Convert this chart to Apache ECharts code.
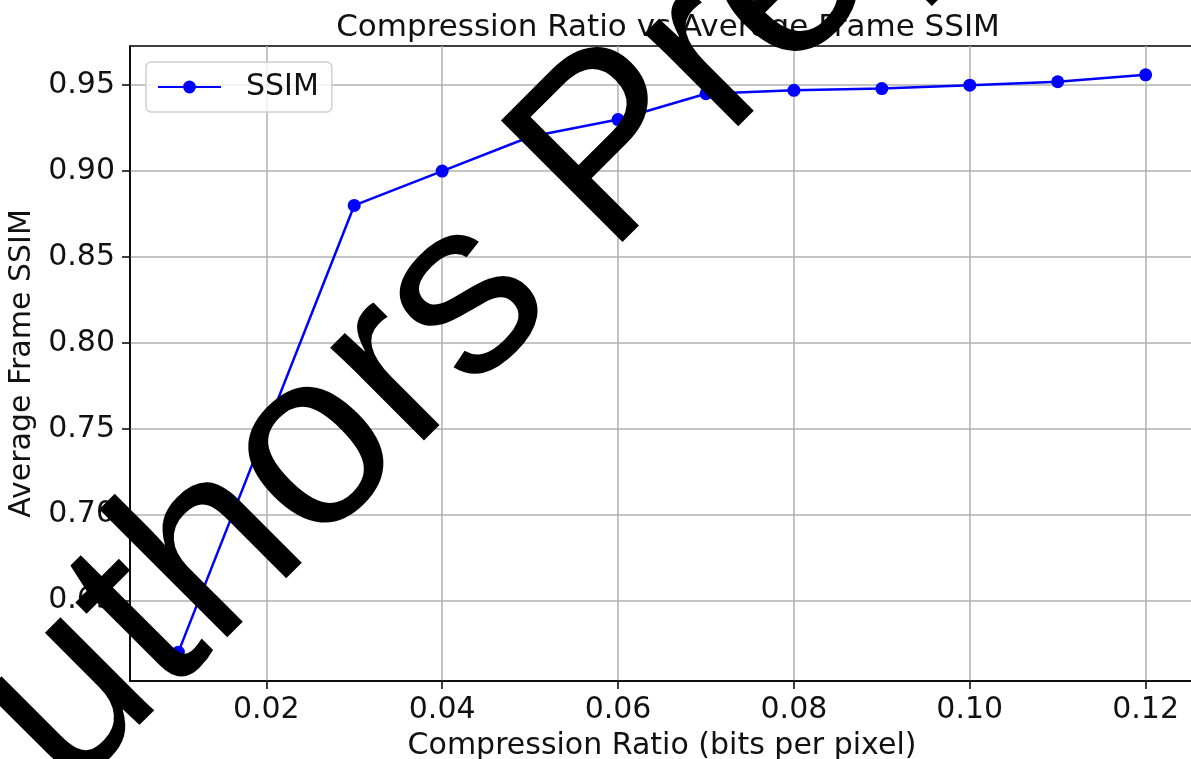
<!DOCTYPE html>
<html>
<head>
    <meta charset="UTF-8">
    <title>Compression Ratio vs Average Frame SSIM</title>
    <script src="https://cdn.jsdelivr.net/npm/echarts@6/dist/echarts.min.js"></script>
    <style>
        html, body { margin: 0; padding: 0; background: #fff; }
        #main { width: 1191px; height: 759px; }
    </style>
</head>
<body>
<div id="main"></div>
<script type="text/javascript">
    // data
    var bpp = [0.01, 0.03, 0.04, 0.05, 0.06, 0.07, 0.08, 0.09, 0.10, 0.11, 0.12];
    var ssim = [0.620, 0.880, 0.900, 0.920, 0.930, 0.945, 0.947, 0.948, 0.950, 0.952, 0.956];
    var xTicks = [0.02, 0.04, 0.06, 0.08, 0.10, 0.12];
    var yTicks = [0.65, 0.70, 0.75, 0.80, 0.85, 0.90, 0.95];

    var font = 'DejaVu Sans';
    var fs = 30;

    var points = [];
    for (var i = 0; i < bpp.length; i++) {
        points.push([bpp[i], ssim[i]]);
    }

    var myChart = echarts.init(document.getElementById('main'));
    var option = {
        animation: false,
        backgroundColor: '#fff',
        title: {
            text: 'Compression Ratio vs Average Frame SSIM',
            left: 663,
            top: 7,
            textAlign: 'center',
            textStyle: { fontFamily: font, fontSize: 31, fontWeight: 'normal', color: '#111' }
        },
        legend: {
            left: 146,
            top: 62,
            orient: 'vertical',
            padding: [10, 13, 10, 11],
            itemWidth: 63,
            itemHeight: 16,
            borderColor: '#d0d0d0',
            borderWidth: 1.5,
            borderRadius: 5,
            backgroundColor: 'rgba(255,255,255,0.8)',
            textStyle: { fontFamily: font, fontSize: fs, color: '#111', padding: [0, 0, 0, 20] },
            data: ['SSIM']
        },
        grid: {
            left: 130,
            top: 46,
            right: -3,
            bottom: 78,
            outerBoundsMode: 'none',
            show: true,
            borderColor: '#000',
            borderWidth: 1.5
        },
        xAxis: {
            type: 'value',
            min: 0.0045,
            max: 0.1255,
            name: 'Compression Ratio (bits per pixel)',
            nameLocation: 'middle',
            nameGap: 50,
            nameTextStyle: { fontFamily: font, fontSize: fs, color: '#111' },
            axisLine: { lineStyle: { color: '#000', width: 1.5 } },
            axisTick: { customValues: xTicks, length: 8, lineStyle: { color: '#000', width: 1.5 } },
            axisLabel: {
                customValues: xTicks,
                margin: 14,
                fontFamily: font, fontSize: fs, color: '#111',
                formatter: function (v) { return v.toFixed(2); }
            },
            splitLine: { show: true, lineStyle: { color: '#b0b0b0', width: 1.5 } }
        },
        yAxis: {
            type: 'value',
            min: 0.6032,
            max: 0.9728,
            name: 'Average Frame SSIM',
            nameLocation: 'middle',
            nameGap: 87,
            nameTextStyle: { fontFamily: font, fontSize: fs, color: '#111' },
            axisLine: { show: true, lineStyle: { color: '#000', width: 1.5 } },
            axisTick: { show: true, customValues: yTicks, length: 8, lineStyle: { color: '#000', width: 1.5 } },
            axisLabel: {
                customValues: yTicks,
                margin: 15,
                fontFamily: font, fontSize: fs, color: '#111',
                formatter: function (v) { return v.toFixed(2); }
            },
            splitLine: { show: true, lineStyle: { color: '#b0b0b0', width: 1.5 } }
        },
        series: [
            {
                name: 'SSIM',
                type: 'line',
                data: points,
                symbol: 'circle',
                symbolSize: 13,
                showSymbol: true,
                color: '#0000ff',
                lineStyle: { color: '#0000ff', width: 2.5 },
                itemStyle: { color: '#0000ff' }
            }
        ],
        // watermark over the whole figure
        graphic: [
            {
                type: 'text',
                x: -99,
                y: 866,
                rotation: Math.PI / 4,
                z: 100,
                style: {
                    text: 'Authors Preprint',
                    fontFamily: 'Liberation Sans',
                    fontSize: 250,
                    fill: '#000',
                    align: 'left',
                    verticalAlign: 'middle'
                }
            }
        ]
    };
    myChart.setOption(option);
</script>
</body>
</html>
